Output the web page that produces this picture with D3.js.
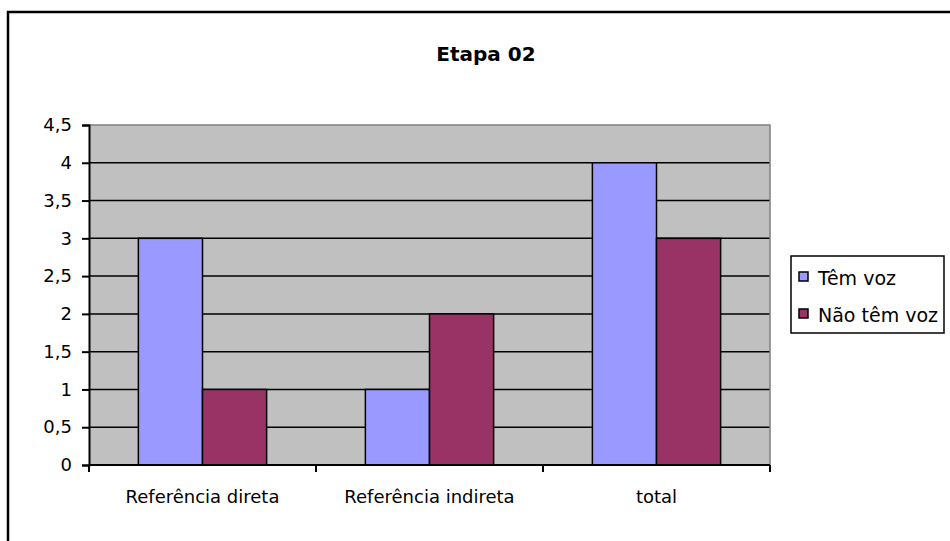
<!DOCTYPE html>
<html>
<head>
<meta charset="utf-8">
<script src="https://cdn.jsdelivr.net/npm/d3@7"></script>
<style>
  body { margin: 0; background: #fff; }
  text { font-family: "DejaVu Sans", sans-serif; }
</style>
</head>
<body>
<div id="chart"></div>
<script>
const categories = ["Referência direta", "Referência indireta", "total"];
const series = ["Têm voz", "Não têm voz"];
const temVoz = [3, 1, 4];
const naoTemVoz = [1, 2, 3];
const yTicks = [0, 0.5, 1, 1.5, 2, 2.5, 3, 3.5, 4, 4.5];
const colors = ["#9999FF", "#993366"];

const width = 950;
const height = 541;
const margin = { top: 125, right: 180, bottom: 76, left: 89 };

const svg = d3.select("#chart")
  .append("svg")
  .attr("width", width)
  .attr("height", height);

// chart frame
svg.append("rect")
  .attr("x", 8).attr("y", 12)
  .attr("width", 1000).attr("height", 600)
  .attr("fill", "#fff")
  .attr("stroke", "#000")
  .attr("stroke-width", 2.5);

const x0 = d3.scaleBand()
  .domain(categories)
  .range([margin.left, width - margin.right]);

const x1 = d3.scaleBand()
  .domain(series)
  .range([0, x0.bandwidth()])
  .paddingInner(0)
  .paddingOuter(0.77);

const y = d3.scaleLinear()
  .domain([0, 4.5])
  .range([height - margin.bottom, margin.top]);

const plotW = width - margin.right - margin.left;

// plot background
svg.append("rect")
  .attr("x", margin.left).attr("y", margin.top)
  .attr("width", plotW).attr("height", y(0) - margin.top)
  .attr("fill", "#C0C0C0");

// gridlines
svg.append("g")
  .selectAll("line")
  .data(yTicks.filter(d => d > 0 && d < 4.5))
  .enter()
  .append("line")
  .attr("x1", margin.left).attr("x2", margin.left + plotW)
  .attr("y1", d => y(d)).attr("y2", d => y(d))
  .attr("stroke", "#000")
  .attr("stroke-width", 1.5);

// plot border (top, right)
svg.append("path")
  .attr("d", `M${margin.left},${margin.top}H${margin.left + plotW}V${y(0)}`)
  .attr("fill", "none")
  .attr("stroke", "#808080")
  .attr("stroke-width", 1.5);

const data = categories.map((c, i) => ({ cat: c, values: [temVoz[i], naoTemVoz[i]] }));

svg.append("g")
  .selectAll("g")
  .data(data)
  .enter()
  .append("g")
  .attr("transform", d => `translate(${x0(d.cat)},0)`)
  .selectAll("rect")
  .data(d => d.values.map((v, j) => ({ key: series[j], value: v, idx: j })))
  .enter()
  .append("rect")
  .attr("x", d => x1(d.key))
  .attr("y", d => y(d.value))
  .attr("width", x1.bandwidth())
  .attr("height", d => y(0) - y(d.value))
  .attr("fill", d => colors[d.idx])
  .attr("stroke", "#000")
  .attr("stroke-width", 1.5);

// y axis
const yAxis = svg.append("g")
  .attr("transform", `translate(${margin.left},0)`)
  .call(d3.axisLeft(y).tickValues(yTicks).tickSize(7).tickPadding(10)
    .tickFormat(d => String(d).replace(".", ",")));
yAxis.select(".domain").attr("stroke", "#000").attr("stroke-width", 2);
yAxis.selectAll(".tick line").attr("stroke", "#000").attr("stroke-width", 2);
yAxis.selectAll("text").attr("font-size", 18).attr("fill", "#000")
  .attr("font-family", "DejaVu Sans, sans-serif");

// x axis
const xAxis = svg.append("g")
  .attr("transform", `translate(0,${y(0)})`);
xAxis.append("line")
  .attr("x1", margin.left).attr("x2", margin.left + plotW)
  .attr("stroke", "#000").attr("stroke-width", 2);
xAxis.selectAll(".tk")
  .data(categories.map(c => x0(c)).concat([margin.left + plotW]))
  .enter()
  .append("line")
  .attr("x1", d => d).attr("x2", d => d)
  .attr("y1", 0).attr("y2", 7)
  .attr("stroke", "#000").attr("stroke-width", 2);
xAxis.selectAll(".lbl")
  .data(categories)
  .enter()
  .append("text")
  .attr("x", d => x0(d) + x0.bandwidth() / 2)
  .attr("y", 38)
  .attr("text-anchor", "middle")
  .attr("font-size", 18)
  .text(d => d);

// title
svg.append("text")
  .attr("x", 486)
  .attr("y", 61)
  .attr("text-anchor", "middle")
  .attr("font-size", 20)
  .attr("font-weight", "bold")
  .text("Etapa 02");

// legend
const legend = svg.append("g");
legend.append("rect")
  .attr("x", 791).attr("y", 256)
  .attr("width", 153).attr("height", 77)
  .attr("fill", "#fff")
  .attr("stroke", "#000")
  .attr("stroke-width", 1.5);
const li = legend.selectAll(".li")
  .data(series)
  .enter()
  .append("g")
  .attr("transform", (d, i) => `translate(799,${272 + i * 37})`);
li.append("rect")
  .attr("width", 9).attr("height", 9)
  .attr("fill", (d, i) => colors[i])
  .attr("stroke", "#000")
  .attr("stroke-width", 1.5);
li.append("text")
  .attr("x", 19)
  .attr("y", 13)
  .attr("font-size", 19)
  .text(d => d);
</script>
</body>
</html>
